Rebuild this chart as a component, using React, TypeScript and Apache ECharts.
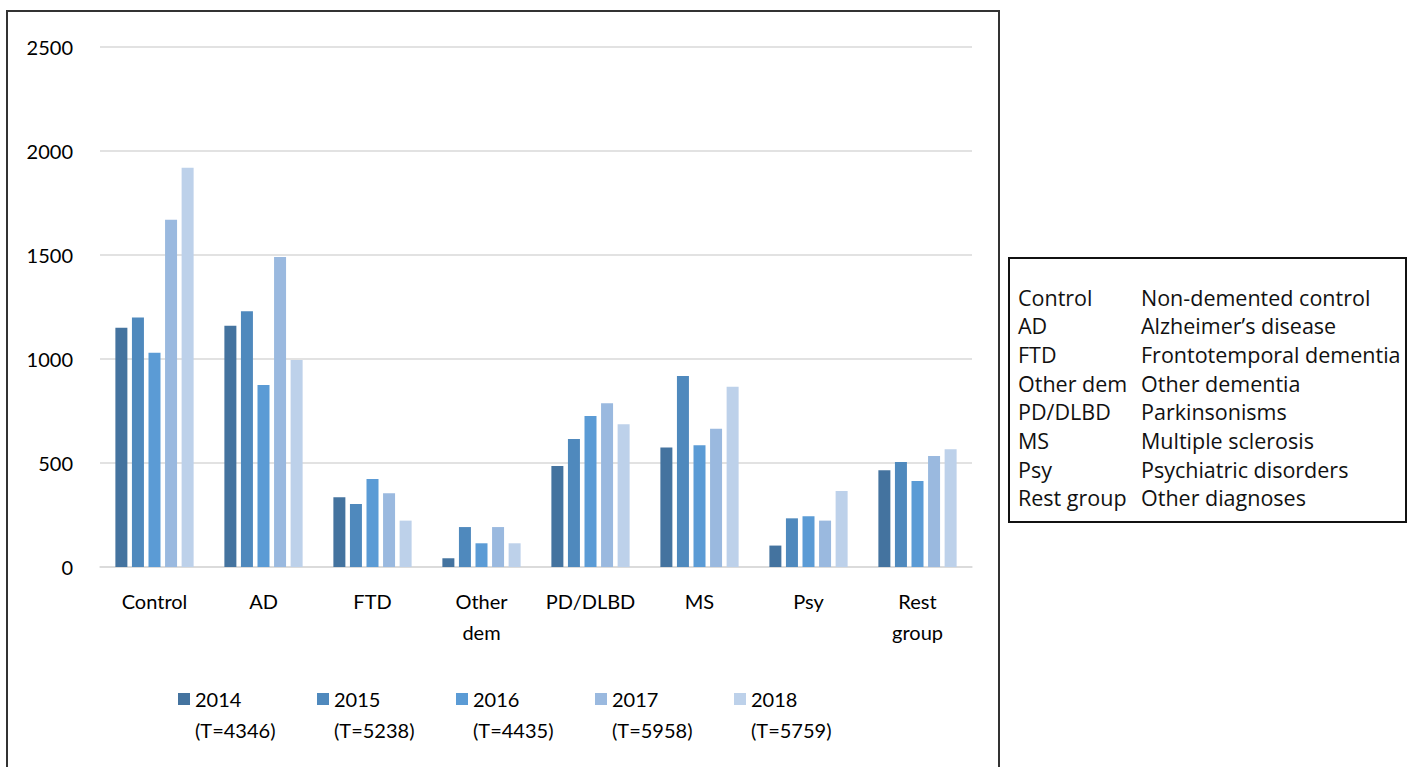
import React, { useEffect, useRef } from "react";
import * as echarts from "echarts";

const categories = ["Control", "AD", "FTD", "Other\ndem", "PD/DLBD", "MS", "Psy", "Rest\ngroup"];
const years = ["2014", "2015", "2016", "2017", "2018"];
const totals = ["4346", "5238", "4435", "5958", "5759"];
const colors = ["#44739f", "#4f89bd", "#5b9bd5", "#9ab9df", "#bdd1ea"];
const v2014 = [1150, 1160, 335, 42, 485, 575, 103, 465];
const v2015 = [1200, 1230, 303, 192, 615, 918, 234, 505];
const v2016 = [1030, 875, 423, 114, 726, 585, 244, 413];
const v2017 = [1670, 1490, 354, 192, 787, 665, 223, 534];
const v2018 = [1920, 995, 223, 114, 686, 867, 365, 566];
const seriesValues = [v2014, v2015, v2016, v2017, v2018];
const yTicks = { min: 0, max: 2500, interval: 500 };
const abbreviations = ["Control", "AD", "FTD", "Other dem", "PD/DLBD", "MS", "Psy", "Rest group"];
const descriptions = [
  "Non-demented control",
  "Alzheimer\u2019s disease",
  "Frontotemporal dementia",
  "Other dementia",
  "Parkinsonisms",
  "Multiple sclerosis",
  "Psychiatric disorders",
  "Other diagnoses",
];

const FONT = "Lato, 'Liberation Sans', sans-serif";
const BOX_FONT = "'Open Sans', 'Noto Sans', sans-serif";

export default function App() {
  const ref = useRef<HTMLDivElement>(null);
  useEffect(() => {
    if (!ref.current) return;
    const chart = echarts.init(ref.current, undefined, { renderer: "svg" });
    const legendNames = years.map((y, i) => `${y}\n(T=${totals[i]})`);
    const boxTexts: any[] = [];
    abbreviations.forEach((a, i) => {
      boxTexts.push({
        type: "text",
        x: 1018,
        y: 297 + i * 28.7,
        style: { text: a, font: `21.5px ${BOX_FONT}`, fill: "#111", verticalAlign: "middle" },
      });
      boxTexts.push({
        type: "text",
        x: 1141,
        y: 297 + i * 28.7,
        style: { text: descriptions[i], font: `21.5px ${BOX_FONT}`, fill: "#111", verticalAlign: "middle" },
      });
    });
    chart.setOption({
      animation: false,
      backgroundColor: "#fff",
      grid: { left: 100, right: 444, top: 47, bottom: 200, containLabel: false },
      xAxis: {
        type: "category",
        data: categories,
        axisLine: { lineStyle: { color: "#d9d9d9", width: 1.5 } },
        axisTick: { show: false },
        axisLabel: {
          color: "#000",
          fontFamily: FONT,
          fontSize: 20,
          lineHeight: 31,
          margin: 18,
          interval: 0,
        },
      },
      yAxis: {
        type: "value",
        min: yTicks.min,
        max: yTicks.max,
        interval: yTicks.interval,
        axisLine: { show: false },
        axisTick: { show: false },
        axisLabel: {
          color: "#000",
          fontFamily: FONT,
          fontSize: 20,
          margin: 27,
          formatter: (v: number) => String(v),
        },
        splitLine: { lineStyle: { color: "#d9d9d9", width: 1.5 } },
      },
      legend: {
        left: 178,
        top: 683,
        padding: 0,
        itemWidth: 12,
        itemHeight: 42,
        itemGap: 6,
        icon: "path://M0,0H12V12H0ZM0,42H0.01V42.01H0Z",
        textStyle: {
          color: "#000",
          fontFamily: FONT,
          fontSize: 20,
          lineHeight: 31,
          width: 116,
        },
        data: legendNames,
      },
      series: seriesValues.map((vals, i) => ({
        type: "bar",
        name: legendNames[i],
        data: vals,
        barWidth: 12,
        barGap: "38%",
        itemStyle: { color: colors[i] },
      })),
      graphic: [
        {
          type: "rect",
          shape: { x: 7, y: 11, width: 992, height: 800 },
          style: { fill: "none", stroke: "#333", lineWidth: 2 },
          silent: true,
        },
        {
          type: "rect",
          shape: { x: 1009, y: 258, width: 397, height: 264 },
          style: { fill: "none", stroke: "#111", lineWidth: 2 },
          silent: true,
        },
        ...boxTexts,
      ],
    });
    return () => chart.dispose();
  }, []);
  return (
    <div
      ref={ref}
      style={{ position: "fixed", left: 0, top: 0, width: 1416, height: 767 }}
    />
  );
}
